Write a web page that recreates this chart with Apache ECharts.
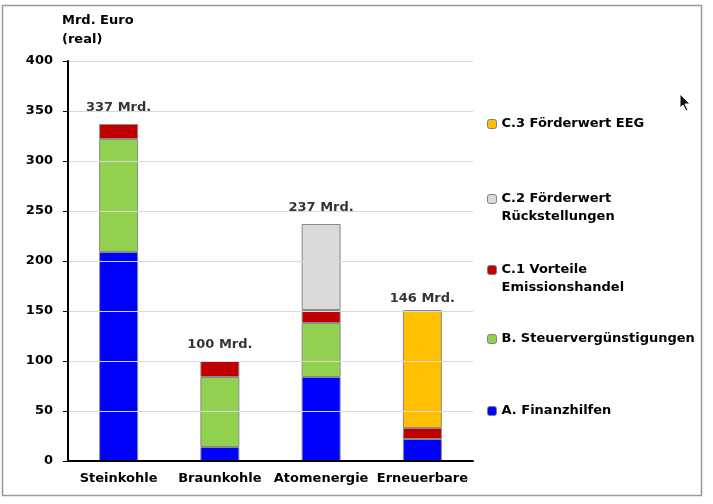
<!DOCTYPE html>
<html>
<head>
<meta charset="utf-8">
<script src="https://cdn.jsdelivr.net/npm/echarts@6/dist/echarts.min.js"></script>
<style>html,body{margin:0;padding:0;background:#fff}#c{width:713px;height:504px}</style>
</head>
<body>
<div id="c"></div>
<script>
const categories = ['Steinkohle', 'Braunkohle', 'Atomenergie', 'Erneuerbare'];
const finanzhilfen = [209, 14, 84, 22];
const steuerverguenstigungen = [113, 70, 54, null];
const emissionshandel = [15, 16, 13, 11];
const rueckstellungen = [null, null, 86, null];
const eeg = [null, null, null, 118];
const totals = [337, 100, 237, 146];
const seriesNames = ['A. Finanzhilfen', 'B. Steuervergünstigungen', 'C.1 Vorteile\nEmissionshandel', 'C.2 Förderwert\nRückstellungen', 'C.3 Förderwert EEG'];
const yTicks = { min: 0, max: 400, interval: 50 };

const FONT = 'DejaVu Sans';
const TXT = '#000';
const colors = ['#0000ff', '#92d050', '#c00000', '#d9d9d9', '#ffc000'];
const seriesData = [finanzhilfen, steuerverguenstigungen, emissionshandel, rueckstellungen, eeg];

const chart = echarts.init(document.getElementById('c'), null, { renderer: 'canvas' });

const legendCenters = [411, 339, 269, 198, 124];
const legends = seriesNames.map((n, i) => {
  const multi = n.indexOf('\n') >= 0;
  return {
    data: [n],
    left: 487,
    top: multi ? legendCenters[i] - 26 : legendCenters[i] - 9,
    padding: 0,
    itemWidth: 9,
    itemHeight: 9,
    itemGap: 0,
    selectedMode: false,
    formatter: name => (name.indexOf('\n') >= 0 ? '\u00a0\n' + name : name),
    textStyle: {
      fontFamily: FONT, fontWeight: 'bold', fontSize: 13, color: TXT,
      lineHeight: 18
    },
    itemStyle: { borderColor: '#7f7f7f', borderWidth: 1 }
  };
});

const series = seriesData.map((d, i) => ({
  name: seriesNames[i],
  type: 'bar',
  stack: 'total',
  data: d,
  barWidth: '38.5%',
  itemStyle: { color: colors[i], borderColor: '#8a8a8a', borderWidth: 1 },
  emphasis: { disabled: true }
}));

series.push({
  type: 'scatter',
  data: totals,
  symbolSize: 0,
  z: 10,
  label: {
    show: true, position: 'top', distance: 10,
    formatter: p => p.value + ' Mrd.',
    fontFamily: FONT, fontWeight: 'bold', fontSize: 13, color: TXT
  },
  emphasis: { disabled: true },
  tooltip: { show: false }
});

chart.setOption({
  animation: false,
  backgroundColor: '#fff',
  title: {
    text: 'Mrd. Euro\n(real)',
    left: 62, top: 11, padding: 0,
    textStyle: { fontFamily: FONT, fontWeight: 'bold', fontSize: 13, color: TXT, lineHeight: 19 }
  },
  legend: legends,
  grid: { left: 68, right: 240, top: 61, bottom: 43, containLabel: false },
  xAxis: {
    type: 'category',
    data: categories,
    axisLine: { lineStyle: { color: '#000', width: 2 } },
    axisTick: { show: false },
    axisLabel: { margin: 11, fontFamily: FONT, fontWeight: 'bold', fontSize: 13, color: TXT, interval: 0 },
    z: 5
  },
  yAxis: {
    type: 'value',
    min: yTicks.min, max: yTicks.max, interval: yTicks.interval,
    axisLine: { show: true, lineStyle: { color: '#000', width: 2 } },
    axisTick: { show: true, length: 5, lineStyle: { color: '#000', width: 1 } },
    axisLabel: { margin: 15, fontFamily: FONT, fontWeight: 'bold', fontSize: 13, color: TXT },
    splitLine: { lineStyle: { color: '#d9d9d9', width: 1 } },
    z: 5
  },
  series: series,
  graphic: [
    { type: 'rect', shape: { x: 2.5, y: 5.5, width: 699, height: 490 }, style: { fill: 'none', stroke: '#9a9a9a', lineWidth: 1.5 }, z: -1 },
    { type: 'polygon', shape: { points: [[680, 94], [680, 108], [683, 105], [686, 111], [688, 110], [685, 104], [690, 104]] }, style: { fill: '#111', stroke: '#fff', lineWidth: 1 }, z: 100 }
  ]
});
</script>
</body>
</html>
